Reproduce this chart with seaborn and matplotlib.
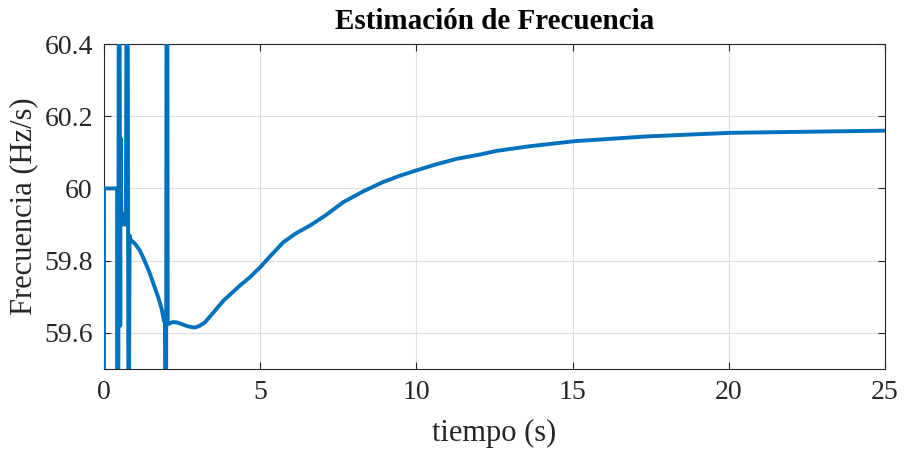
import numpy as np
import pandas as pd
import matplotlib
matplotlib.use("Agg")
import matplotlib.pyplot as plt
import seaborn as sns

# Data
tiempo = [0.0, 0.0, 0.42, 0.42, 0.46, 0.47, 0.50, 0.52, 0.53, 0.56, 0.60, 0.65,
          0.70, 0.72, 0.76, 0.78, 0.80, 0.82, 0.83, 1.00, 1.15, 1.30, 1.47, 1.60, 1.74,
          1.85, 1.92, 1.95, 1.96, 1.99, 2.00, 2.03, 2.04, 2.20, 2.33, 2.50, 2.65, 2.80,
          2.91, 3.05, 3.23, 3.50, 3.82, 4.35, 4.67, 4.99, 5.35, 5.74, 6.15, 6.59, 7.10,
          7.66, 8.30, 8.94, 9.50, 10.0, 10.6, 11.29, 12.04, 12.57, 13.64, 15.08, 17.37,
          20.04, 22.5, 25.0]
frecuencia = [59.4, 60.0, 60.0, 59.4, 59.4, 60.5, 60.5, 59.62, 60.14, 59.90, 59.93, 59.90,
              59.90, 60.5, 60.5, 59.4, 59.4, 59.87, 59.86, 59.846, 59.828, 59.800, 59.764, 59.732, 59.698,
              59.665, 59.633, 59.63, 59.4, 59.4, 60.5, 60.5, 59.624, 59.630, 59.629, 59.624, 59.619, 59.616,
              59.615, 59.619, 59.629, 59.656, 59.689, 59.731, 59.754, 59.781, 59.815, 59.851, 59.876, 59.897, 59.926,
              59.962, 59.992, 60.018, 60.036, 60.050, 60.066, 60.082, 60.094, 60.104, 60.117, 60.131, 60.144,
              60.154, 60.157, 60.160]
xticks = [0, 5, 10, 15, 20, 25]
yticks = [59.6, 59.8, 60.0, 60.2, 60.4]
yticklabels = ["59.6", "59.8", "60", "60.2", "60.4"]

df = pd.DataFrame({"t": tiempo, "f": frecuencia})

sns.set_style("white")
plt.rcParams["font.family"] = ["Liberation Serif", "DejaVu Serif"]

fig = plt.figure(figsize=(9.05, 4.49), dpi=100)
ax = fig.add_axes([0.1149, 0.1782, 0.8630, 0.7238])

sns.lineplot(data=df, x="t", y="f", ax=ax, sort=False, estimator=None,
             color="#0072BD", linewidth=2.8, zorder=3)

ax.set_xlim(0, 25)
ax.set_ylim(59.5, 60.4)
ax.set_xticks(xticks)
ax.set_xticklabels([str(v) for v in xticks])
ax.set_yticks(yticks)
ax.set_yticklabels(yticklabels)
ax.grid(True, color="#dedede", linewidth=0.8)
ax.set_axisbelow(True)
for s in ax.spines.values():
    s.set_color("#262626")
    s.set_linewidth(0.8)
    s.set_visible(True)
    s.set_zorder(2.5)
ax.tick_params(direction="in", length=5, width=0.8, colors="#262626",
               labelsize=20, top=True, right=True, bottom=True, left=True,
               labelcolor="#262626", pad=8)
ax.set_xlabel("tiempo (s)", fontsize=22, color="#262626", labelpad=10)
ax.set_ylabel("Frecuencia (Hz/s)", fontsize=22, color="#262626", labelpad=4)
ax.set_title("Estimación de Frecuencia", fontsize=21, fontweight="bold",
             color="black", pad=11)

fig.savefig("out.png", dpi=100)
